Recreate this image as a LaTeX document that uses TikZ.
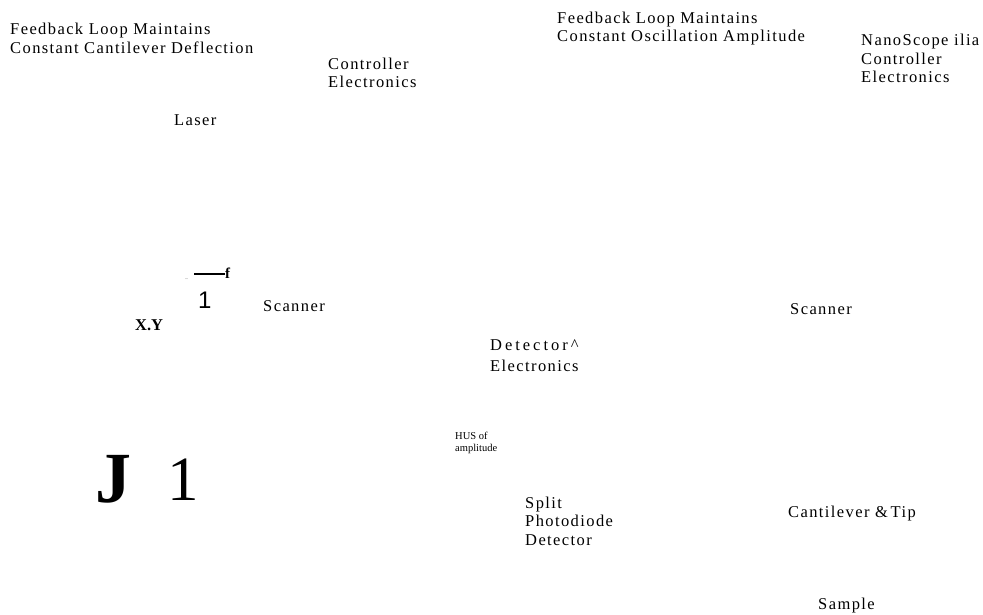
\documentclass[tikz,border=0pt]{standalone}
\usepackage{fontspec}
\setmainfont{Liberation Serif}
\newfontfamily\spacedfont[LetterSpace=8.5]{Liberation Serif}
\newfontfamily\widefont[LetterSpace=18]{Liberation Serif}
\newfontfamily\plainsans{Liberation Sans}
\tikzset{
  lbl/.style={anchor=base west, inner sep=0pt, align=left, font=\spacedfont\fontsize{16.5}{18.5}\selectfont},
  smalllbl/.style={anchor=base west, inner sep=0pt, align=left, font=\fontsize{10.5}{12}\selectfont},
  biglbl/.style={anchor=base west, inner sep=0pt}
}
\begin{document}
\begin{tikzpicture}[x=1pt,y=-1pt]
\useasboundingbox[fill=white] (0,0) rectangle (983,615);
% Contact mode side
\node[lbl] (feedbackA) at (10,53.5) {Feedback Loop Maintains\\Constant Cantilever Deflection};
\node[lbl] (controllerA) at (328,88) {Controller\\Electronics};
\node[lbl] (laser) at (174,126) {Laser};
\node[biglbl, font=\fontsize{4}{4}\selectfont] (dots) at (185,279) {...};
\node[biglbl, font=\bfseries\fontsize{15}{15}\selectfont] (dashf) at (194,278) {\rule[3.4pt]{31pt}{1.8pt}f};
\node[biglbl, font=\plainsans\fontsize{24}{24}\selectfont] (one) at (198,308) {1};
\node[lbl] (scannerA) at (263,311) {Scanner};
\node[biglbl, font=\bfseries\fontsize{16.5}{16.5}\selectfont] (xy) at (135,330) {X.Y};
\node[biglbl, font=\bfseries\fontsize{72}{72}\selectfont] (bigJ) at (95,502) {J};
\node[biglbl, font=\fontsize{63}{63}\selectfont] (bigone) at (167,500) {1};
% Tapping mode side
\node[lbl] (feedbackB) at (557,42) {Feedback Loop Maintains\\Constant Oscillation Amplitude};
\node[lbl] (controllerB) at (861,83) {NanoScope ilia\\Controller\\Electronics};
\node[lbl, font=\widefont\fontsize{16.5}{20}\selectfont] (detector) at (490,350) {Detector\^{}};
\node[lbl] (electronics) at (490,371) {Electronics};
\node[smalllbl] (rms) at (455,451) {HUS of\\amplitude};
\node[lbl] (photodiode) at (525,545) {Split\\Photodiode\\Detector};
\node[lbl] (scannerB) at (790,314) {Scanner};
\node[lbl] (cantilever) at (788,517) {Cantilever \&\,Tip};
\node[lbl] (sample) at (818,609) {Sample};
\end{tikzpicture}
\end{document}
